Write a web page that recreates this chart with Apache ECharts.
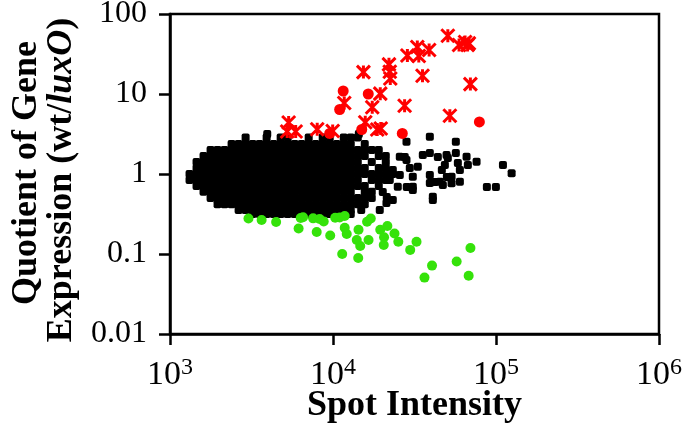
<!DOCTYPE html>
<html>
<head>
<meta charset="utf-8">
<script src="https://cdn.jsdelivr.net/npm/echarts@6/dist/echarts.min.js"></script>
<style>
html,body{margin:0;padding:0;background:#fff;}
#chart{width:683px;height:426px;}
</style>
</head>
<body>
<div id="chart"></div>
<script>
// Tick labels
const xTickExponents = ['3', '4', '5', '6'];
const yTickLabels = ['0.01', '0.1', '1', '10', '100'];

// Dense cloud of unchanged genes: each row = [quotient, [spot intensities]]
const normalRows = [
  [3.16, [3950, 14400]],
  [2.85, [2910, 3916, 4774, 5271, 7094, 8648, 9546, 11640, 12850, 14190]],
  [2.37, [2387, 2636, 2910, 3213, 3547, 3916, 4324, 4774, 5271, 5819, 6425, 7094, 7832, 8648, 9546, 10540, 11640, 12850, 15660]],
  [2.0, [1774, 1958, 2162, 2387, 2636, 2910, 3213, 3547, 3916, 4324, 4774, 5271, 5819, 6425, 7094, 7832, 8648, 9546, 10540, 11640, 12850, 14190, 15660, 17290, 19090]],
  [1.68, [1606, 1774, 1958, 2162, 2387, 2636, 2910, 3213, 3547, 3916, 4324, 4774, 5271, 5819, 6425, 7094, 7832, 8648, 9546, 10540, 11640, 12850, 14190, 15660, 19090, 21080]],
  [1.41, [1455, 1606, 1774, 1958, 2162, 2387, 2636, 2910, 3213, 3547, 3916, 4324, 4774, 5271, 5819, 6425, 7094, 7832, 8648, 9546, 10540, 11640, 12850, 14190, 17290, 21080]],
  [1.19, [1455, 1606, 1774, 1958, 2162, 2387, 2636, 2910, 3213, 3547, 3916, 4324, 4774, 5271, 5819, 6425, 7094, 7832, 8648, 9546, 10540, 11640, 12850, 14190, 15660, 19090, 21080]],
  [1.0, [1318, 1455, 1606, 1774, 1958, 2162, 2387, 2636, 2910, 3213, 3547, 3916, 4324, 4774, 5271, 5819, 6425, 7094, 7832, 8648, 9546, 10540, 11640, 12850, 14190, 15660, 17290, 19090, 21080, 23270]],
  [0.84, [1318, 1455, 1606, 1774, 1958, 2162, 2387, 2636, 2910, 3213, 3547, 3916, 4324, 4774, 5271, 5819, 6425, 7094, 7832, 8648, 9546, 10540, 11640, 12850, 14190, 17290, 19090, 21080]],
  [0.71, [1455, 1606, 1774, 1958, 2162, 2387, 2636, 2910, 3213, 3547, 3916, 4324, 4774, 5271, 5819, 6425, 7094, 7832, 8648, 9546, 10540, 11640, 12850, 14190, 15660, 19090]],
  [0.60, [1606, 1774, 1958, 2162, 2387, 2636, 2910, 3213, 3547, 3916, 4324, 4774, 5271, 5819, 6425, 7094, 7832, 8648, 9546, 10540, 11640, 12850, 15660, 17290]],
  [0.50, [1774, 1958, 2162, 2387, 2636, 2910, 3213, 3547, 3916, 4324, 4774, 5271, 5819, 6425, 7094, 7832, 8648, 9546, 10540, 11640, 12850, 14190, 15660, 17290]],
  [0.42, [1958, 2162, 2387, 2636, 2910, 3213, 3547, 3916, 4324, 4774, 5271, 5819, 6425, 7094, 7832, 8648, 9546, 10540, 11640, 12850, 14190, 15660]],
  [0.355, [2636, 2910, 3213, 3547, 3916, 4324, 4774, 5271, 5819, 6425, 7094, 7832, 8648, 9546, 10540, 11640, 12850, 14900]],
  [0.316, [3213, 3547, 3916, 4324, 4774, 5271, 5819, 6425, 7094, 7832, 8648, 9546, 10540, 12850]]
];

// Scattered unchanged genes at higher intensity: [spot intensity, quotient]
const normalSparse = [
  [39270, 2.93], [28240, 2.53], [56700, 2.53], [56700, 1.83], [49730, 1.73], [39270, 1.83],
  [65980, 1.645], [76000, 1.425], [67200, 1.296], [110300, 1.296], [124700, 1.02],
  [87900, 0.688], [99860, 0.688], [40970, 0.520], [40970, 0.473], [60030, 0.801],
  [53380, 0.765], [47190, 0.729], [39270, 0.772], [30870, 0.694], [30870, 0.925],
  [33140, 1.234], [35560, 1.73], [48550, 1.296], [58340, 1.372], [53380, 0.925],
  [45220, 0.801], [25690, 1.645], [28240, 1.496], [23270, 1.122], [24970, 0.694],
  [23270, 0.473], [21280, 0.434], [19360, 0.355], [27560, 1.631], [29590, 1.189],
  [25690, 0.972], [22300, 0.841], [28350, 0.688], [30870, 0.631], [20200, 0.596],
  [21370, 0.516], [42140, 0.794], [49940, 0.917], [60030, 1.122], [46530, 1.122],
  [39270, 0.972], [43970, 1.631], [50640, 1.585]
];

// Down-regulated genes (green circles)
const downGenes = [
  [3030, 0.278], [3648, 0.266], [4477, 0.251], [6152, 0.208], [6334, 0.282], [6550, 0.288],
  [7551, 0.279], [7945, 0.188], [8280, 0.274], [8770, 0.255], [9614, 0.170], [10315, 0.284],
  [10990, 0.286], [11800, 0.2985], [11800, 0.213], [12140, 0.178], [11390, 0.100],
  [13985, 0.1496], [14690, 0.126], [14340, 0.201], [14280, 0.089], [16520, 0.1496],
  [16180, 0.2535], [17050, 0.278], [19500, 0.201], [21560, 0.224], [20570, 0.162],
  [20480, 0.1296], [23840, 0.180], [25160, 0.142], [29760, 0.1125], [32540, 0.142],
  [40500, 0.0716], [36420, 0.0507], [57350, 0.0804], [69720, 0.1186], [67960, 0.0534]
];

// Up-regulated genes (red circles)
const upCircles = [
  [11550, 10.9], [10990, 6.40], [16450, 10.0], [15010, 3.60], [26620, 3.21], [9544, 3.21], [79070, 4.47]
];

// Up-regulated genes (red crosses)
const upCrosses = [
  [5345, 4.40], [5233, 3.40], [5902, 3.40], [8000, 3.62], [9955, 3.45], [11720, 7.72],
  [15770, 4.43], [17410, 6.82], [18680, 3.60], [19630, 3.70], [19500, 10.1], [15370, 18.8],
  [22050, 23.5], [22300, 19.0], [22460, 15.6], [27500, 7.14], [28600, 30.3], [32900, 38.7],
  [33600, 29.9], [38880, 35.5], [35410, 16.9], [50640, 53.4], [52100, 5.35], [59340, 41.0],
  [64600, 44.7], [66930, 41.0], [68160, 43.0], [69640, 13.3]
];

const normalData = [];
normalRows.forEach(function (row) {
  row[1].forEach(function (x) { normalData.push([x, row[0]]); });
});
normalSparse.forEach(function (p) { normalData.push(p); });

const serif = '"Liberation Serif", "Times New Roman", serif';
const chart = echarts.init(document.getElementById('chart'), null, { renderer: 'canvas' });

chart.setOption({
  animation: false,
  backgroundColor: '#fff',
  grid: {
    left: 170, right: 24, top: 14, bottom: 92,
    containLabel: false, outerBoundsMode: 'none',
    show: true, borderColor: '#000', borderWidth: 2.5, backgroundColor: 'transparent'
  },
  xAxis: {
    type: 'log', logBase: 10, min: 1000, max: 1000000,
    name: 'Spot Intensity', nameLocation: 'middle', nameGap: 54, nameMoveOverlap: false,
    nameTextStyle: { fontFamily: serif, fontWeight: 'bold', fontSize: 36, color: '#000' },
    axisLine: { lineStyle: { color: '#000', width: 2.5 } },
    axisTick: { length: 11, lineStyle: { color: '#000', width: 2.5 } },
    splitLine: { show: false },
    axisLabel: {
      margin: 22,
      formatter: function (v) {
        const k = Math.round(Math.log10(v)) - 3;
        return '{b|10}{s|' + xTickExponents[k] + '}';
      },
      rich: {
        b: { fontFamily: serif, fontSize: 34, lineHeight: 38, color: '#000' },
        s: { fontFamily: serif, fontSize: 24, lineHeight: 24, verticalAlign: 'top', color: '#000' }
      }
    }
  },
  yAxis: {
    type: 'log', logBase: 10, min: 0.01, max: 100,
    axisLine: { lineStyle: { color: '#000', width: 2.5 } },
    axisTick: { length: 11, lineStyle: { color: '#000', width: 2.5 } },
    splitLine: { show: false },
    axisLabel: {
      margin: 23,
      fontFamily: serif, fontSize: 32, color: '#000',
      formatter: function (v) { return yTickLabels[Math.round(Math.log10(v)) + 2]; }
    }
  },
  graphic: [
    {
      type: 'text', x: 27, y: 173, rotation: Math.PI / 2,
      style: { text: 'Quotient of Gene', fontFamily: serif, fontWeight: 'bold', fontSize: 36, fill: '#000', align: 'center', verticalAlign: 'middle' }
    },
    {
      type: 'text', x: 62, y: 180, rotation: Math.PI / 2,
      style: {
        text: 'Expression (wt/{i|luxO})', fontFamily: serif, fontWeight: 'bold', fontSize: 36, fill: '#000', align: 'center', verticalAlign: 'middle',
        rich: { i: { fontFamily: serif, fontWeight: 'bold', fontStyle: 'italic', fontSize: 36, fill: '#000' } }
      }
    }
  ],
  series: [
    {
      type: 'scatter', name: 'unchanged', data: normalData,
      symbol: 'roundRect', symbolSize: 8,
      itemStyle: { color: '#000', opacity: 1 }, z: 2
    },
    {
      type: 'scatter', name: 'down', data: downGenes,
      symbol: 'circle', symbolSize: 10,
      itemStyle: { color: '#35e20a', opacity: 1 }, z: 3
    },
    {
      type: 'scatter', name: 'up circles', data: upCircles,
      symbol: 'circle', symbolSize: 11,
      itemStyle: { color: '#ff0000', opacity: 1 }, z: 4
    },
    {
      type: 'scatter', name: 'up crosses', data: upCrosses,
      symbol: 'path://M0,0L10,10M10,0L0,10M5,0L5,10', symbolSize: 13,
      itemStyle: { color: '#ff0000', borderColor: '#ff0000', borderWidth: 3, opacity: 1 }, z: 5
    }
  ]
});
</script>
</body>
</html>
